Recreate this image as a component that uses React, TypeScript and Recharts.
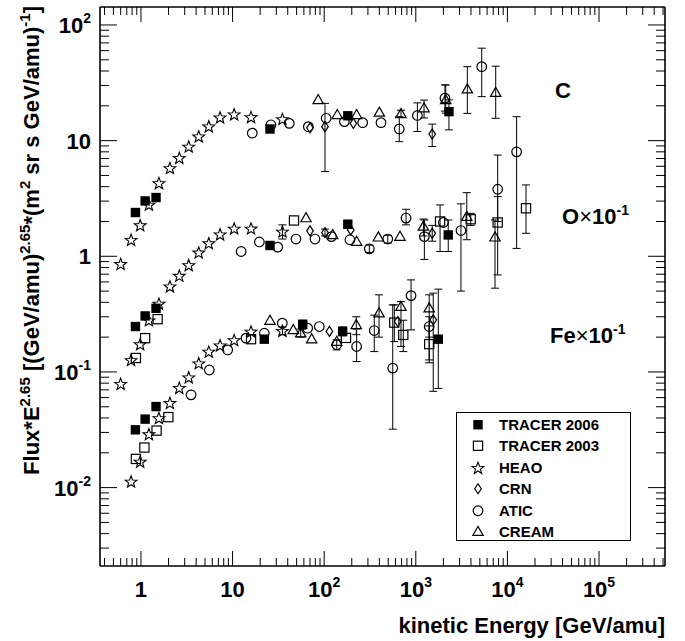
import { ScatterChart, Scatter, XAxis, YAxis, ErrorBar, ReferenceLine, Legend } from 'recharts'

// each point: [energy GeV/amu, flux*E^2.65, errLow?, errHigh?]
type Pt = number[]

const tracer06C: Pt[] = [[0.87, 2.39], [1.11, 3.01], [1.46, 3.22], [25.6, 12.6], [181, 16.4], [2300, 17.8, 12.4, 22.5]]
const tracer06O: Pt[] = [[0.87, 0.247], [1.11, 0.305], [1.46, 0.355], [25.6, 1.24], [181, 1.89, 1.75, 2.05], [2260, 1.53, 1.1, 2.06]]
const tracer06Fe: Pt[] = [[0.87, 0.0316], [1.11, 0.0391], [1.46, 0.0502], [22.2, 0.192], [58.3, 0.258, 0.235, 0.28], [159, 0.224, 0.205, 0.245], [1760, 0.192, 0.072, 0.52]]

const tracer03O: Pt[] = [[0.88, 0.132], [1.11, 0.196], [1.52, 0.286], [46.8, 2.04], [1840, 2.0, 1.1, 2.78], [3975, 2.09, 1.85, 2.35], [7830, 1.96, 0.69, 3.28], [15960, 2.6, 1.58, 4.14]]
const tracer03Fe: Pt[] = [[0.88, 0.0177], [1.09, 0.0222], [1.48, 0.0311], [1.99, 0.0407], [15.9, 0.192], [173, 0.197], [582, 0.267, 0.183, 0.38], [730, 0.209, 0.15, 0.28], [1400, 0.174, 0.12, 0.25]]

const heaoC: Pt[] = [[0.6, 0.86], [0.78, 1.39], [0.98, 1.86], [1.22, 2.8], [1.57, 4.3], [2.07, 5.8], [2.62, 7.1], [3.32, 8.9], [4.27, 10.9], [5.5, 13.3], [7.3, 15.9], [10.4, 16.9], [15.9, 16.0], [35, 15.4]]
const heaoO: Pt[] = [[0.6, 0.079], [0.78, 0.127], [0.98, 0.174], [1.22, 0.28], [1.57, 0.39], [2.07, 0.55], [2.62, 0.68], [3.32, 0.84], [4.27, 1.08], [5.5, 1.3], [7.3, 1.55], [10.4, 1.74], [15.9, 1.74], [35, 1.64, 1.41, 1.87]]
const heaoFe: Pt[] = [[0.78, 0.0113], [0.98, 0.0168], [1.22, 0.029], [1.57, 0.04], [2.07, 0.054], [2.62, 0.073], [3.32, 0.09], [4.27, 0.119], [5.5, 0.15], [7.3, 0.17], [10.4, 0.189], [15.9, 0.224], [35, 0.227, 0.21, 0.245]]

const crnC: Pt[] = [[70, 12.9], [102, 13.2, 5.4, 21], [208, 14.1], [1510, 11.4, 8.9, 13.9]]
const crnO: Pt[] = [[70, 1.66], [102, 1.6, 1.5, 1.72], [195, 1.69], [1510, 1.58, 1.35, 1.85]]
const crnFe: Pt[] = [[114, 0.224], [635, 0.273], [1550, 0.282, 0.068, 0.48]]

const aticC: Pt[] = [[16.4, 11.6], [26.2, 13.7], [41.6, 14.1], [67.1, 13.2], [105, 15.6], [166, 14.6], [263, 14.3], [417, 14.3], [660, 12.6, 9.8, 16.1], [1040, 16.5, 12.0, 21.2], [2080, 23.3, 18, 30.3], [5240, 43.6, 24, 63]]
const aticO: Pt[] = [[12.4, 1.1], [19.6, 1.33], [31.1, 1.2], [49.2, 1.41], [79.3, 1.41], [120, 1.48], [191, 1.39], [311, 1.16, 1.08, 1.25], [494, 1.41, 1.3, 1.52], [782, 2.14, 1.87, 2.55], [1240, 1.48, 0.94, 2.06], [2000, 1.96], [3110, 1.67, 0.5, 2.84], [7830, 3.8, 2.0, 7.5], [12600, 8.0, 1.17, 16.1]]
const aticFe: Pt[] = [[3.52, 0.0634], [5.57, 0.104], [8.84, 0.155], [14.0, 0.196], [22.2, 0.216], [34.9, 0.264], [66, 0.239], [88.4, 0.247], [137, 0.172, 0.155, 0.19], [226, 0.166, 0.123, 0.235], [352, 0.228, 0.15, 0.31], [560, 0.108, 0.032, 0.38], [887, 0.457, 0.231, 0.625], [1400, 0.247, 0.2, 0.3]]

const creamC: Pt[] = [[86, 22.5], [139, 16.7], [226, 16.7], [400, 17.5], [689, 17.0, 15.9, 18.3], [1230, 19.1, 15.7, 22.4], [2120, 22.5, 17.3, 30.3], [3650, 27.8, 17.2, 43.6], [7450, 26.0, 15.6, 44]]
const creamO: Pt[] = [[63.3, 2.14], [124, 1.53], [226, 1.34], [390, 1.46], [672, 1.48], [1210, 1.81, 1.5, 2.1], [3600, 2.2, 1.39, 3.55], [7320, 1.46, 0.53, 2.06]]
const creamFe: Pt[] = [[25.6, 0.278], [46, 0.231], [55.4, 0.216, 0.2, 0.235], [73, 0.192], [137, 0.183], [224, 0.255, 0.21, 0.3], [397, 0.322, 0.2, 0.464], [689, 0.367, 0.166, 0.406], [1400, 0.356, 0.127, 0.464]]

const X_MIN = 0.357
const X_MAX = 525000
const Y_MIN = 0.0021
const Y_MAX = 143
const PLOT_TOP = 7
const PLOT_W = 565

const FONT = '"Liberation Sans", Arial, Helvetica, sans-serif'

const rows = (...sets: Pt[][]) =>
  sets.flat().map(([e, f, lo, hi]) => ({ e, f, err: lo === undefined ? undefined : [f - lo, hi - f] }))

// log-axis ticks: every m*10^k strictly inside the range
const logTicks = (from: number, to: number) => {
  const out: number[] = []
  for (let k = -4; k <= 6; k++) {
    for (let m = 1; m <= 9; m++) {
      const v = m * Math.pow(10, k)
      if (v > from && v < to) out.push(Number(v.toPrecision(3)))
    }
  }
  return out
}

const xTicks = logTicks(X_MIN, X_MAX)
const yTicks = logTicks(0.0025, Y_MAX)

const isMajor = (v: number) => Math.abs(Math.log10(v) - Math.round(Math.log10(v))) < 1e-6

const powLabel = (v: number, supSize: number, dy: number) => {
  const k = Math.round(Math.log10(v))
  if (k === 0) return '1'
  if (k === 1) return '10'
  return (
    <>
      10
      <tspan dy={dy} fontSize={supSize}>{k}</tspan>
    </>
  )
}

const XTick = (props: any) => {
  const { x, y, payload } = props
  const major = isMajor(payload.value)
  const len = major ? 15 : 8
  return (
    <g>
      <line x1={x} y1={y} x2={x} y2={y - len} stroke="#000" strokeWidth={1} />
      <line x1={x} y1={PLOT_TOP} x2={x} y2={PLOT_TOP + len} stroke="#000" strokeWidth={1} />
      {major && (
        <text x={x} y={y + 31} textAnchor="middle" fontFamily={FONT} fontWeight="bold" fontSize={22} fill="#000">
          {powLabel(payload.value, 14, -10)}
        </text>
      )}
    </g>
  )
}

const YTick = (props: any) => {
  const { x, y, payload } = props
  const major = isMajor(payload.value)
  const len = major ? 17 : 9
  return (
    <g>
      <line x1={x} y1={y} x2={x + len} y2={y} stroke="#000" strokeWidth={1} />
      <line x1={x + PLOT_W} y1={y} x2={x + PLOT_W - len} y2={y} stroke="#000" strokeWidth={1} />
      {major && (
        <text x={x - 9} y={y + 8} textAnchor="end" fontFamily={FONT} fontWeight="bold" fontSize={22} fill="#000">
          {powLabel(payload.value, 14, -10)}
        </text>
      )}
    </g>
  )
}

const starPath = (cx: number, cy: number, R: number, r: number) => {
  const pts: string[] = []
  for (let i = 0; i < 10; i++) {
    const rad = i % 2 === 0 ? R : r
    const a = -Math.PI / 2 + (i * Math.PI) / 5
    pts.push(`${(cx + rad * Math.cos(a)).toFixed(2)},${(cy + rad * Math.sin(a)).toFixed(2)}`)
  }
  return `M${pts.join('L')}Z`
}

const sw = 1.2
const markers: Record<string, (cx: number, cy: number) => JSX.Element> = {
  filledSquare: (cx, cy) => <rect x={cx - 4.7} y={cy - 4.7} width={9.4} height={9.4} fill="#000" />,
  openSquare: (cx, cy) => <rect x={cx - 4.6} y={cy - 4.6} width={9.2} height={9.2} fill="none" stroke="#000" strokeWidth={sw} />,
  star: (cx, cy) => <path d={starPath(cx, cy + 0.6, 6.2, 2.6)} fill="none" stroke="#000" strokeWidth={1.1} />,
  diamond: (cx, cy) => (
    <path d={`M${cx},${cy - 5}L${cx + 3.3},${cy}L${cx},${cy + 5}L${cx - 3.3},${cy}Z`} fill="none" stroke="#000" strokeWidth={sw} />
  ),
  circle: (cx, cy) => <circle cx={cx} cy={cy} r={4.8} fill="none" stroke="#000" strokeWidth={sw} />,
  triangle: (cx, cy) => (
    <path d={`M${cx},${cy - 5.4}L${cx + 5.2},${cy + 3.7}L${cx - 5.2},${cy + 3.7}Z`} fill="none" stroke="#000" strokeWidth={sw} />
  ),
}

const shapeOf = (kind: string) => (p: any) => {
  if (p.cx == null || p.cy == null) return <g />
  return markers[kind](p.cx, p.cy)
}

const series = [
  { name: 'ATIC', kind: 'circle', data: rows(aticC, aticO, aticFe) },
  { name: 'CREAM', kind: 'triangle', data: rows(creamC, creamO, creamFe) },
  { name: 'CRN', kind: 'diamond', data: rows(crnC, crnO, crnFe) },
  { name: 'HEAO', kind: 'star', data: rows(heaoC, heaoO, heaoFe) },
  { name: 'TRACER 2003', kind: 'openSquare', data: rows(tracer03O, tracer03Fe) },
  { name: 'TRACER 2006', kind: 'filledSquare', data: rows(tracer06C, tracer06O, tracer06Fe) },
]

const legendOrder = ['TRACER 2006', 'TRACER 2003', 'HEAO', 'CRN', 'ATIC', 'CREAM']

const LegendBox = () => (
  <div
    style={{
      width: 175,
      height: 129,
      boxSizing: 'border-box',
      border: '1.5px solid #000',
      background: '#fff',
      position: 'relative',
      fontFamily: FONT,
      fontWeight: 'bold',
      fontSize: 15,
      color: '#000',
    }}
  >
    {legendOrder.map((name, i) => {
      const s = series.find((d) => d.name === name)!
      return (
        <div key={name} style={{ position: 'absolute', left: 0, top: 0.5 + i * 21.5, height: 21.5, display: 'flex', alignItems: 'center' }}>
          <svg width={42} height={21.5} style={{ display: 'block' }}>
            {markers[s.kind](21, 10.75)}
          </svg>
          <span style={{ whiteSpace: 'nowrap' }}>{name}</span>
        </div>
      )
    })}
  </div>
)

const Titles = () => (
  <g fontFamily={FONT} fontWeight="bold" fill="#000">
    <text x={39} y={6} textAnchor="end" fontSize={22} transform="rotate(-90, 39, 6)">
      Flux*E<tspan dy={-9} fontSize={15}>2.65</tspan>
      <tspan dy={9}> [(GeV/amu)</tspan>
      <tspan dy={-9} fontSize={15}>2.65</tspan>
      <tspan dy={9}>*(m</tspan>
      <tspan dy={-9} fontSize={15}>2</tspan>
      <tspan dy={9}> sr s GeV/amu)</tspan>
      <tspan dy={-9} fontSize={15}>-1</tspan>
      <tspan dy={9}>]</tspan>
    </text>
    <text x={563} y={98} textAnchor="middle" fontSize={22}>C</text>
    <text x={562} y={224} fontSize={22}>
      O<tspan fontWeight="normal">×</tspan>10<tspan dy={-9} fontSize={14}>-1</tspan>
    </text>
    <text x={550} y={343} fontSize={22}>
      Fe<tspan fontWeight="normal">×</tspan>10<tspan dy={-9} fontSize={14}>-1</tspan>
    </text>
  </g>
)

export default function App() {
  return (
    <div style={{ position: 'absolute', left: 0, top: 0, background: '#fff' }}>
      <ScatterChart width={685} height={641} margin={{ top: PLOT_TOP, right: 20, bottom: 0, left: 0 }}>
        <XAxis
          dataKey="e"
          type="number"
          scale="log"
          domain={[X_MIN, X_MAX]}
          allowDataOverflow
          ticks={xTicks}
          interval={0}
          tick={<XTick />}
          tickLine={false}
          tickSize={0}
          tickMargin={0}
          height={75}
          axisLine={{ stroke: '#000', strokeWidth: 1.6 }}
          label={{
            content: () => (
              <text x={665} y={633} textAnchor="end" fontFamily={FONT} fontWeight="bold" fontSize={22} fill="#000">
                kinetic Energy [GeV/amu]
              </text>
            ),
          }}
        />
        <YAxis
          dataKey="f"
          type="number"
          scale="log"
          domain={[Y_MIN, Y_MAX]}
          allowDataOverflow
          ticks={yTicks}
          interval={0}
          tick={<YTick />}
          tickLine={false}
          tickSize={0}
          tickMargin={0}
          width={100}
          axisLine={{ stroke: '#000', strokeWidth: 1.6 }}
          label={{ content: () => <Titles /> }}
        />
        <ReferenceLine y={Y_MAX} stroke="#000" strokeWidth={1.6} />
        <ReferenceLine x={X_MAX} stroke="#000" strokeWidth={1.6} />
        {series.map((s) => (
          <Scatter key={s.name} name={s.name} data={s.data} shape={shapeOf(s.kind)} isAnimationActive={false}>
            <ErrorBar dataKey="err" direction="y" width={4} stroke="#000" strokeWidth={1} />
          </Scatter>
        ))}
        <Legend
          layout="horizontal"
          verticalAlign="middle"
          align="center"
          wrapperStyle={{ left: 456, top: 412, width: 175 }}
          content={() => <LegendBox />}
        />
      </ScatterChart>
    </div>
  )
}
